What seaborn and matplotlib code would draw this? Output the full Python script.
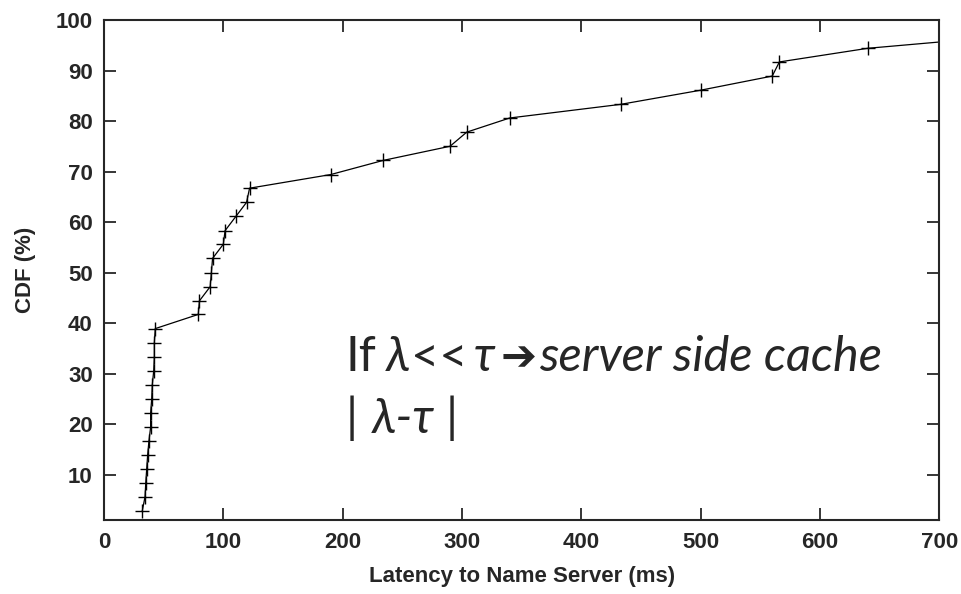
import matplotlib
matplotlib.use("Agg")
import matplotlib.pyplot as plt
import seaborn as sns

latency_ms = [32.1, 34.4, 35.0, 35.8, 36.6, 37.7, 39.1, 39.1, 40.0, 40.5,
              41.7, 42.2, 42.2, 43.0, 79.0, 80.0, 89.0, 90.0, 91.0, 100.0,
              101.5, 110.5, 119.5, 122.0, 190.0, 234.0, 290.0, 304.0, 340.0,
              433.0, 500.0, 560.0, 566.0, 640.0, 775.0, 950.0]
cdf_pct = [2.8, 5.6, 8.3, 11.1, 13.9, 16.7, 19.4, 22.2, 25.0, 27.8,
           30.6, 33.3, 36.1, 38.9, 41.7, 44.4, 47.2, 50.0, 52.8, 55.6,
           58.3, 61.1, 63.9, 66.7, 69.4, 72.2, 75.0, 77.8, 80.6, 83.3,
           86.1, 88.9, 91.7, 94.4, 97.2, 100.0]
x_ticks = [0, 100, 200, 300, 400, 500, 600, 700]
y_ticks = [10, 20, 30, 40, 50, 60, 70, 80, 90, 100]

sns.set_style("ticks")
plt.rcParams['font.family'] = ['Liberation Sans', 'DejaVu Sans']

fig = plt.figure(figsize=(9.61, 5.94), dpi=100)
ax = fig.add_axes([0.1082, 0.1246, 0.8692, 0.8417])

sns.lineplot(x=latency_ms, y=cdf_pct, estimator=None, sort=False, ax=ax,
             color='black', linewidth=0.9, marker='+', markersize=10,
             markeredgewidth=1.0, markeredgecolor='black')

ax.set_xlim(0, 700)
ax.set_ylim(1, 100)
ax.set_xticks(x_ticks)
ax.set_yticks(y_ticks)
ax.tick_params(direction='in', length=8.5, width=1.3, top=True, right=True,
               labelsize=16)
ax.tick_params(axis='x', pad=9)
ax.tick_params(axis='y', pad=8)
for lbl in ax.get_xticklabels() + ax.get_yticklabels():
    lbl.set_fontweight('bold')
for sp in ax.spines.values():
    sp.set_visible(True)
    sp.set_linewidth(1.5)

ax.set_xlabel('Latency to Name Server (ms)', fontsize=16, fontweight='bold', labelpad=9)
ax.set_ylabel('CDF (%)', fontsize=16, fontweight='bold', labelpad=14)

# annotation text, pieces chained one after another
fam = ['Lato', 'DejaVu Sans']
fs = 35
t = ax.text(0.2895, 0.297, 'If', transform=ax.transAxes, fontsize=fs, family=fam)
pieces = [('λ', 'italic', fs, 7), ('<<', 'normal', fs, 0), ('τ', 'italic', fs, 5),
          ('➔', 'normal', 31, 4), ('server side cache', 'italic', fs, 2)]
for txt, st, size, gap in pieces:
    if txt == '➔':
        f = ['DejaVu Sans']
    else:
        f = fam
    t = ax.annotate(txt, xy=(1, 0), xycoords=t, xytext=(gap, 0),
                    textcoords='offset points', fontsize=size, family=f,
                    style=st, va='bottom')

t = ax.text(0.2895, 0.174, '|', transform=ax.transAxes, fontsize=fs, family=fam)
t = ax.annotate('λ-τ', xy=(1, 0), xycoords=t, xytext=(10, 0),
                textcoords='offset points', fontsize=fs, family=fam,
                style='italic', va='bottom')
ax.annotate('|', xy=(1, 0), xycoords=t, xytext=(8, 0),
            textcoords='offset points', fontsize=fs, family=fam, va='bottom')

fig.savefig('out.png', dpi=100)
